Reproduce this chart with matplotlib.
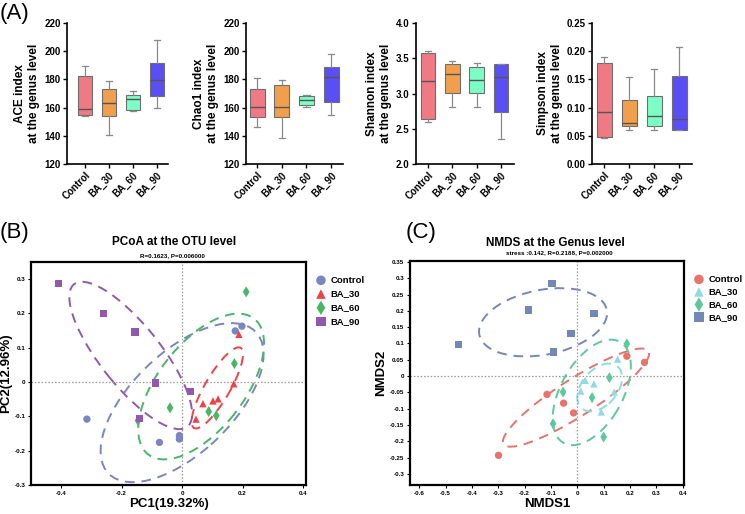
import numpy as np
import matplotlib
matplotlib.use('Agg')
import matplotlib.pyplot as plt
from matplotlib.patches import Ellipse
from matplotlib.ticker import FuncFormatter

plt.rcParams['font.family'] = ['Liberation Sans', 'DejaVu Sans']

# ---------------- data ----------------
groups = ['Control', 'BA_30', 'BA_60', 'BA_90']

# five-number summaries: whisker low, q1, median, q3, whisker high
ace = [[153.7, 154.4, 159.1, 182.1, 189.2],
       [140.4, 154.1, 163.1, 173.1, 178.8],
       [157.7, 158.2, 166.0, 168.8, 171.9],
       [159.8, 167.9, 179.5, 191.6, 207.9]]
chao1 = [[146.4, 153.6, 160.2, 172.9, 181.0],
         [138.6, 153.3, 160.5, 176.2, 179.8],
         [160.5, 161.9, 165.7, 168.1, 168.8],
         [154.8, 164.3, 181.9, 189.0, 198.3]]
shannon = [[2.59, 2.645, 3.18, 3.573, 3.597],
           [2.806, 3.005, 3.275, 3.417, 3.455],
           [2.81, 3.005, 3.185, 3.374, 3.43],
           [2.36, 2.744, 3.24, 3.417, 3.417]]
simpson = [[0.0459, 0.048, 0.0924, 0.179, 0.189],
           [0.061, 0.0676, 0.073, 0.114, 0.154],
           [0.061, 0.0676, 0.0859, 0.121, 0.1676],
           [0.061, 0.061, 0.080, 0.156, 0.2076]]

# PCoA (OTU level)
pcoa_x = {'Control': [-0.315, -0.075, -0.009, -0.009, 0.176, 0.198],
          'BA_30': [0.188, 0.171, 0.119, 0.102, 0.069, 0.046],
          'BA_60': [0.212, 0.173, -0.040, 0.088, 0.113, -0.146],
          'BA_90': [-0.409, -0.260, -0.156, -0.088, 0.027, -0.141]}
pcoa_y = {'Control': [-0.108, -0.176, -0.156, -0.166, 0.149, 0.163],
          'BA_30': [0.139, -0.005, -0.049, -0.055, -0.063, -0.108],
          'BA_60': [0.263, 0.054, -0.075, -0.086, -0.098, -0.112],
          'BA_90': [0.287, 0.200, 0.146, -0.003, -0.028, -0.107]}
# ellipses: centre x, centre y, width, height, angle
pcoa_ell = {'Control': [0.0, -0.06, 0.64, 0.31, 38],
            'BA_30': [0.1165, -0.017, 0.28, 0.08, 56],
            'BA_60': [0.063, -0.013, 0.53, 0.27, 46],
            'BA_90': [-0.17, 0.0775, 0.56, 0.19, -47]}

# NMDS (genus level)
nmds_x = {'Control': [-0.299, -0.115, -0.052, -0.014, 0.188, 0.255],
          'BA_30': [0.030, 0.063, 0.013, 0.091, 0.140, 0.153],
          'BA_60': [0.188, 0.122, -0.054, 0.056, -0.092, 0.100],
          'BA_90': [-0.452, -0.096, -0.186, 0.063, -0.024, -0.090]}
nmds_y = {'Control': [-0.243, -0.056, -0.083, -0.113, 0.061, 0.042],
          'BA_30': [-0.013, -0.024, -0.046, -0.110, -0.049, 0.052],
          'BA_60': [0.099, -0.005, -0.049, -0.066, -0.146, -0.187],
          'BA_90': [0.097, 0.283, 0.203, 0.191, 0.130, 0.074]}
nmds_ell = {'Control': [-0.005, -0.066, 0.62, 0.12, 27],
            'BA_30': [0.085, -0.035, 0.19, 0.12, 35],
            'BA_60': [0.055, -0.05, 0.38, 0.22, 50],
            'BA_90': [-0.13, 0.165, 0.49, 0.20, 8]}

# ---------------- styles ----------------
box_colors = ['#F07A84', '#F0A04C', '#7CFFC4', '#5A4FF5']
pcoa_colors = {'Control': '#7A86C2', 'BA_30': '#EF4148',
               'BA_60': '#49B665', 'BA_90': '#9457B0'}
nmds_colors = {'Control': '#E8736B', 'BA_30': '#8FDBE4',
               'BA_60': '#5CC99C', 'BA_90': '#7188B8'}
markers = {'Control': 'o', 'BA_30': '^', 'BA_60': 'd', 'BA_90': 's'}

fig = plt.figure(figsize=(7.45, 5.14), dpi=100)
W, H = 745, 514


def rect(l, r, t, b):
    return [l / W, 1 - b / H, (r - l) / W, (b - t) / H]


# ---------------- (A) boxplots ----------------
box_specs = [
    (ace, 'ACE index\nat the genus level', (120, 220), np.arange(120, 221, 20), rect(67, 168, 23, 164), (0.25, 4.46), '{:.0f}'),
    (chao1, 'Chao1 index\nat the genus level', (120, 220), np.arange(120, 221, 20), rect(246, 343, 23, 164), (0.55, 4.48), '{:.0f}'),
    (shannon, 'Shannon index\nat the genus level', (2.0, 4.0), np.arange(2.0, 4.01, 0.5), rect(416, 514, 23, 164), (0.5, 4.54), '{:.1f}'),
    (simpson, 'Simpson index\nat the genus level', (0.0, 0.25), np.arange(0, 0.251, 0.05), rect(592, 692, 23, 164), (0.52, 4.52), '{:.2f}'),
]

for vals, ylab, ylim, yt, r, xl, fmt in box_specs:
    ax = fig.add_axes(r)
    stats = [dict(whislo=v[0], q1=v[1], med=v[2], q3=v[3], whishi=v[4], label=g)
             for v, g in zip(vals, groups)]
    bp = ax.bxp(stats, positions=[1, 2, 3, 4], widths=0.6, patch_artist=True,
                showfliers=False, capwidths=0.25,
                boxprops=dict(edgecolor='#6e6e6e', linewidth=0.8),
                whiskerprops=dict(color='#8a8a8a', linewidth=0.9),
                capprops=dict(color='#8a8a8a', linewidth=0.9),
                medianprops=dict(color='#555555', linewidth=1.0))
    for patch, c in zip(bp['boxes'], box_colors):
        patch.set_facecolor(c)
    ax.set_xlim(*xl)
    ax.set_ylim(*ylim)
    ax.set_yticks(yt)
    ax.set_yticklabels([fmt.format(t) for t in yt], fontsize=7, fontweight='bold')
    ax.set_xticks([1, 2, 3, 4])
    ax.set_xticklabels(groups, rotation=45, ha='right', rotation_mode='anchor',
                       fontsize=7, fontweight='bold')
    ax.set_ylabel(ylab, fontsize=8.5, fontweight='bold', labelpad=3)
    for s in ['top', 'right']:
        ax.spines[s].set_visible(False)
    for s in ['left', 'bottom']:
        ax.spines[s].set_linewidth(1.2)
    ax.tick_params(length=3, width=1.0, pad=1.5)


def num_fmt(v, pos):
    if abs(v) < 1e-9:
        return '0'
    return f'{round(v, 2):g}'


def scatter_panel(r, xs, ys, ells, colors, xlim, ylim, xt, yt, xlabel, ylabel,
                  leg_y, leg_space):
    ax = fig.add_axes(r)
    for g in groups:
        cx, cy, w, h, a = ells[g]
        ax.add_patch(Ellipse((cx, cy), w, h, angle=a, fill=False,
                             edgecolor=colors[g], linewidth=1.4,
                             linestyle=(0, (5, 3.5))))
    for g in groups:
        ax.scatter(xs[g], ys[g], marker=markers[g], s=28 if markers[g] != 'd' else 32,
                   color=colors[g], edgecolors='none', label=g, zorder=3)
    ax.axhline(0, color='#999999', linestyle=(0, (1.2, 1.5)), linewidth=0.9, zorder=1)
    ax.axvline(0, color='#999999', linestyle=(0, (1.2, 1.5)), linewidth=0.9, zorder=1)
    ax.set_xlim(*xlim)
    ax.set_ylim(*ylim)
    ax.set_xticks(xt)
    ax.set_yticks(yt)
    ax.xaxis.set_major_formatter(FuncFormatter(num_fmt))
    ax.yaxis.set_major_formatter(FuncFormatter(num_fmt))
    for lab in ax.get_xticklabels() + ax.get_yticklabels():
        lab.set_fontweight('bold')
    ax.tick_params(labelsize=4.5, length=2, width=0.8, pad=2)
    for s in ax.spines.values():
        s.set_linewidth(1.6)
    ax.set_xlabel(xlabel, fontsize=9.5, fontweight='bold', labelpad=2)
    ax.set_ylabel(ylabel, fontsize=9.5, fontweight='bold', labelpad=2)
    leg = ax.legend(loc='upper left', bbox_to_anchor=(1.02, leg_y), frameon=False,
                    fontsize=6.8, handletextpad=0.4, labelspacing=leg_space,
                    borderaxespad=0, handlelength=1.2, markerscale=1.3)
    for t in leg.get_texts():
        t.set_fontweight('bold')
    return ax


# ---------------- (B) PCoA ----------------
scatter_panel(rect(31, 306, 262, 485), pcoa_x, pcoa_y, pcoa_ell, pcoa_colors,
              (-0.5, 0.41), (-0.3, 0.35), np.arange(-0.4, 0.41, 0.2),
              np.arange(-0.3, 0.31, 0.1), 'PC1(19.32%)', 'PC2(12.96%)', 0.955, 0.5)
fig.text(174 / W, 1 - 242 / H, 'PCoA at the OTU level', ha='center', va='center',
         fontsize=8.5, fontweight='bold')
fig.text(172 / W, 1 - 256 / H, 'R=0.1623, P=0.006000', ha='center', va='center',
         fontsize=4.5, fontweight='bold')

# ---------------- (C) NMDS ----------------
scatter_panel(rect(410, 684, 261, 485), nmds_x, nmds_y, nmds_ell, nmds_colors,
              (-0.635, 0.405), (-0.334, 0.353), np.arange(-0.6, 0.41, 0.1),
              np.arange(-0.3, 0.351, 0.05), 'NMDS1', 'NMDS2', 0.955, 0.38)
fig.text(555 / W, 1 - 243 / H, 'NMDS at the Genus level', ha='center', va='center',
         fontsize=8.5, fontweight='bold')
fig.text(559 / W, 1 - 253 / H, 'stress :0.142, R=0.2188, P=0.002000', ha='center',
         va='center', fontsize=4.5, fontweight='bold')

# panel labels
fig.text(0 / W, 1 - 13 / H, '(A)', fontsize=16, va='center', ha='left')
fig.text(0 / W, 1 - 233 / H, '(B)', fontsize=16, va='center', ha='left')
fig.text(406 / W, 1 - 233 / H, '(C)', fontsize=16, va='center', ha='left')

fig.savefig('out.png', dpi=100)
